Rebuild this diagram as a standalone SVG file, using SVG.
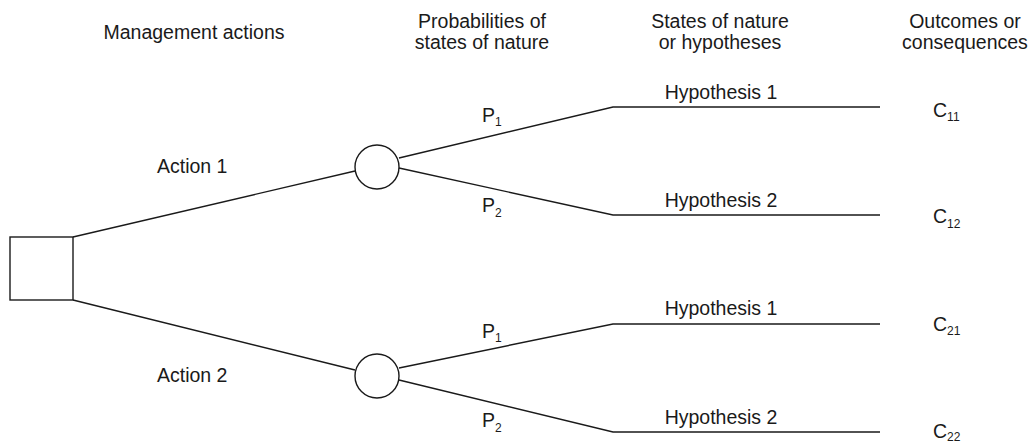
<svg xmlns="http://www.w3.org/2000/svg" width="1030" height="444" viewBox="0 0 1030 444">
<style>
  text { font-family: "Liberation Sans", Arial, sans-serif; font-size: 19.5px; fill: #1a1a1a; }
  .c { text-anchor: middle; }
  .sub { font-size: 12px; }
  .shape { fill: #fff; stroke: #1a1a1a; stroke-width: 1.4; }
  .edge { fill: none; stroke: #1a1a1a; stroke-width: 1.4; }
</style>
<rect width="1030" height="444" fill="#fff"/>
<g id="headers">
  <text class="c" x="194" y="39">Management actions</text>
  <text class="c" x="482" y="28">Probabilities of</text>
  <text class="c" x="482" y="49">states of nature</text>
  <text class="c" x="720" y="28">States of nature</text>
  <text class="c" x="720" y="49">or hypotheses</text>
  <text class="c" x="965" y="28">Outcomes or</text>
  <text class="c" x="965" y="49">consequences</text>
</g>
<g id="connectors">
  <polyline class="edge" points="73,237 355,171"/>
  <polyline class="edge" points="73,300 355,370"/>
  <polyline class="edge" points="399,158 613,107 880,107"/>
  <polyline class="edge" points="399,168 613,215 880,215"/>
  <polyline class="edge" points="399,368 613,324 880,324"/>
  <polyline class="edge" points="399,380 613,432 880,432"/>
</g>
<g id="decision">
  <rect class="shape" x="10" y="237" width="63" height="63"/>
</g>
<g id="chance1">
  <circle class="shape" cx="377" cy="167" r="22"/>
</g>
<g id="chance2">
  <circle class="shape" cx="377" cy="376" r="22"/>
</g>
<g id="labels">
  <text x="157" y="173">Action 1</text>
  <text x="157" y="382">Action 2</text>
  <text x="482" y="122">P<tspan class="sub" dy="4">1</tspan></text>
  <text x="482" y="212">P<tspan class="sub" dy="5">2</tspan></text>
  <text x="482" y="338">P<tspan class="sub" dy="4">1</tspan></text>
  <text x="482" y="427">P<tspan class="sub" dy="5">2</tspan></text>
  <text class="c" x="721" y="99">Hypothesis 1</text>
  <text class="c" x="721" y="207">Hypothesis 2</text>
  <text class="c" x="721" y="315">Hypothesis 1</text>
  <text class="c" x="721" y="424">Hypothesis 2</text>
  <text x="933" y="117">C<tspan class="sub" dy="4">11</tspan></text>
  <text x="933" y="223">C<tspan class="sub" dy="5">12</tspan></text>
  <text x="933" y="331">C<tspan class="sub" dy="4">21</tspan></text>
  <text x="933" y="438">C<tspan class="sub" dy="3">22</tspan></text>
</g>
</svg>
